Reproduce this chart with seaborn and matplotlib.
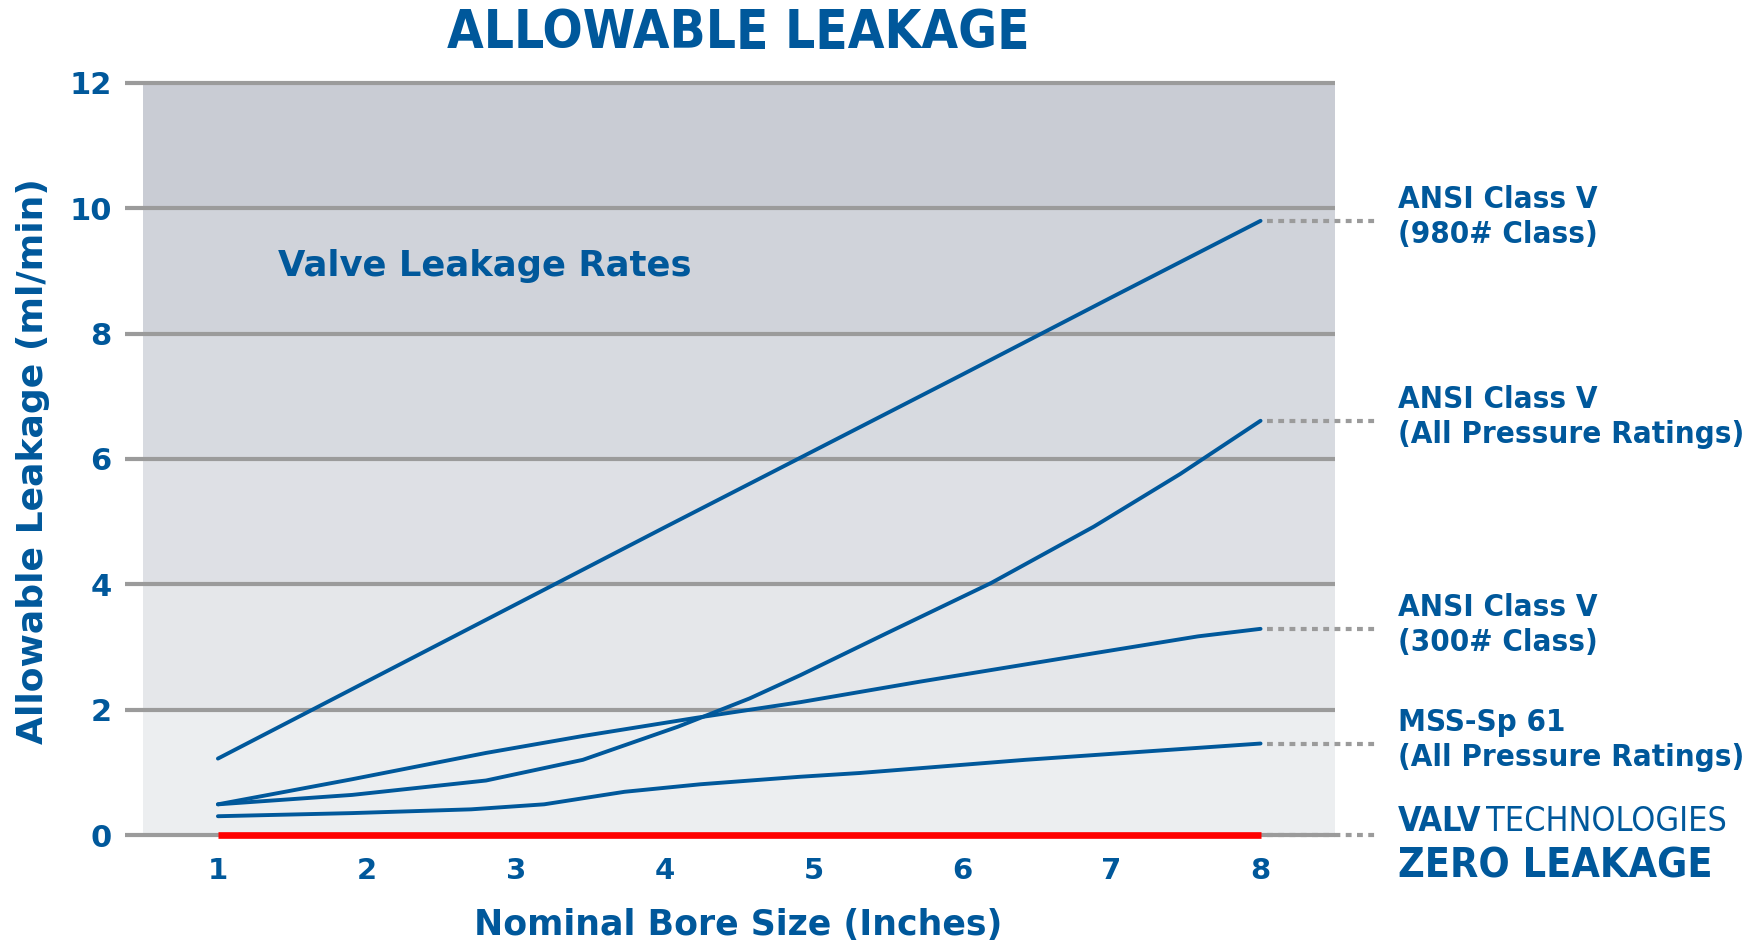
import numpy as np
import pandas as pd
import seaborn as sns
import matplotlib.pyplot as plt
from matplotlib import font_manager

# values (bore size in inches, leakage in ml/min)
bore = [1, 2, 3, 4, 5, 6, 7, 8]
class_980 = [1.22, 2.45, 3.68, 4.91, 6.13, 7.35, 8.58, 9.80]

all_press_x = [1.0, 1.90, 2.80, 3.45, 4.09, 4.57, 4.91, 5.49, 6.19, 6.88, 7.46, 8.0]
all_press = [0.49, 0.64, 0.87, 1.20, 1.73, 2.18, 2.55, 3.22, 4.02, 4.92, 5.76, 6.61]

class_300_x = [1.0, 1.90, 2.80, 3.45, 4.21, 4.91, 5.72, 6.88, 7.58, 8.0]
class_300 = [0.49, 0.89, 1.31, 1.58, 1.87, 2.12, 2.45, 2.90, 3.17, 3.29]

mss_x = [1.0, 1.90, 2.70, 3.19, 3.73, 4.24, 4.91, 5.31, 6.42, 8.0]
mss_sp61 = [0.30, 0.35, 0.41, 0.49, 0.69, 0.81, 0.93, 0.99, 1.20, 1.46]

zero_leak = [0, 0, 0, 0, 0, 0, 0, 0]

series_names = ['ANSI Class V\n(980# Class)',
                'ANSI Class V\n(All Pressure Ratings)',
                'ANSI Class V\n(300# Class)',
                'MSS-Sp 61\n(All Pressure Ratings)']
series_x = [bore, all_press_x, class_300_x, mss_x]
series_vals = [class_980, all_press, class_300, mss_sp61]

y_ticks = [0, 2, 4, 6, 8, 10, 12]
band_colors = ['#eceef0', '#e5e7ea', '#dee0e5', '#d7dae0', '#d0d3da', '#c9ccd4']

BLUE = '#00589b'
GRAY = '#9b9b9b'

sns.set_style('white')
plt.rcParams['font.family'] = ['DejaVu Sans']
has_cond = any(f.name == 'DejaVu Sans' and f.stretch == 'condensed'
               and f.weight in ('bold', 700) for f in font_manager.fontManager.ttflist)
stretch = 'condensed' if has_cond else 'normal'

frames = []
for name, xs, ys in zip(series_names, series_x, series_vals):
    frames.append(pd.DataFrame({'bore': xs, 'leak': ys, 'series': name}))
df = pd.concat(frames, ignore_index=True)

fig = plt.figure(figsize=(17.58, 9.46), dpi=100)
ax = fig.add_axes([0.0816, 0.1173, 0.6778, 0.795])

# banded background
for i, c in enumerate(band_colors):
    ax.axhspan(y_ticks[i], y_ticks[i + 1], color=c, lw=0, zorder=0)

# grid lines reaching a little left of the plot
for y in y_ticks:
    ax.plot([0.376, 8.5], [y, y], color=GRAY, lw=3, clip_on=False, zorder=1,
            solid_capstyle='butt')

sns.lineplot(data=df, x='bore', y='leak', units='series', estimator=None,
             color=BLUE, lw=2.8, ax=ax, zorder=3)
sns.lineplot(x=bore, y=zero_leak, color='#ff0000', lw=4.8, ax=ax, zorder=4,
             clip_on=False, solid_capstyle='butt')

# dotted leaders + labels
ends = [v[-1] for v in series_vals] + [0]
for yv in ends:
    ax.plot([8.04, 8.78], [yv, yv], color=GRAY, lw=3, ls=(0, (1.4, 1.3)),
            clip_on=False, zorder=2)
for name, yv in zip(series_names, ends):
    ax.text(8.92, yv + 0.06, name, color=BLUE, fontsize=22.4, fontweight='bold',
            fontstretch=stretch, va='center', ha='left', linespacing=1.27,
            clip_on=False)

t1 = ax.text(8.92, 0.21, 'VALV', color=BLUE, fontsize=24.5, fontweight='bold',
             fontstretch=stretch, va='center', ha='left', clip_on=False)
fig.canvas.draw()
bb = t1.get_window_extent()
x2 = ax.transData.inverted().transform((bb.x1 - 7, bb.y0))[0]
ax.text(x2, 0.21, 'TECHNOLOGIES', color=BLUE, fontsize=24.5, fontweight='light',
        fontstretch=stretch, va='center', ha='left', clip_on=False)
ax.text(8.92, -0.51, 'ZERO LEAKAGE', color=BLUE, fontsize=29.5, fontweight='bold',
        fontstretch=stretch, va='center', ha='left', clip_on=False)

ax.text(1.4, 9.08, 'Valve Leakage Rates', color=BLUE, fontsize=25.5,
        fontweight='bold', va='center', ha='left')

ax.set_xlim(0.5, 8.5)
ax.set_ylim(0, 12)
ax.set_yticks(y_ticks)
ax.set_xticks(bore)
ax.set_xticks(np.arange(0.5, 9, 1), minor=True)
ax.tick_params(axis='y', length=0, pad=23, labelsize=22, labelcolor=BLUE)
ax.tick_params(axis='x', which='major', length=0, pad=16, labelsize=21,
               labelcolor=BLUE)
ax.tick_params(axis='x', which='minor', length=13, width=3, color=GRAY)
for lab in ax.get_xticklabels() + ax.get_yticklabels():
    lab.set_fontweight('bold')
for s in ax.spines.values():
    s.set_visible(False)
ax.set_xlabel('')
ax.set_ylabel('')
leg = ax.get_legend()
if leg:
    leg.remove()

fig.text(0.42, 0.022, 'Nominal Bore Size (Inches)', color=BLUE, fontsize=25,
         fontweight='bold', ha='center', va='center')
fig.text(0.019, 0.513, 'Allowable Leakage (ml/min)', color=BLUE, fontsize=26,
         fontweight='bold', ha='center', va='center', rotation=90)
fig.text(0.42, 0.965, 'ALLOWABLE LEAKAGE', color=BLUE,
         fontsize=38 if has_cond else 34, fontweight='bold', fontstretch=stretch,
         ha='center', va='center')

fig.savefig('out.png', dpi=100)
